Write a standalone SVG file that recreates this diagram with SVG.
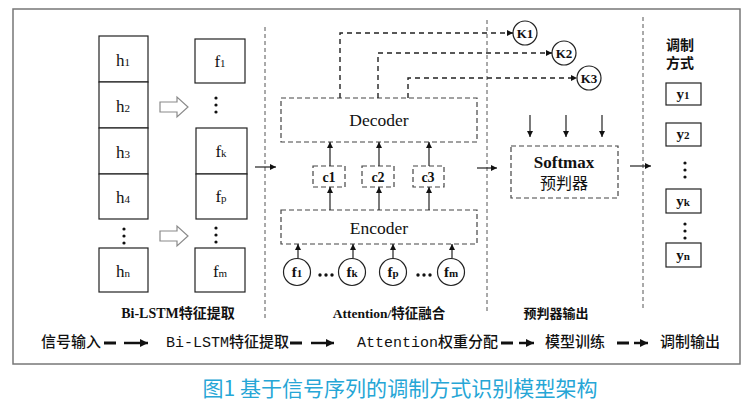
<svg xmlns="http://www.w3.org/2000/svg" width="756" height="418" viewBox="0 0 756 418">
<defs>
<marker id="ah" viewBox="0 0 10 10" refX="10" refY="5" markerWidth="6" markerHeight="6" markerUnits="userSpaceOnUse" orient="auto"><path d="M0,0 L10,5 L0,10 z" fill="#111"/></marker>
<marker id="ah2" viewBox="0 0 10 10" refX="10" refY="5" markerWidth="10" markerHeight="8" markerUnits="userSpaceOnUse" orient="auto"><path d="M0,0 L10,5 L0,10 z" fill="#111"/></marker>
<style>
.box{fill:#fff;stroke:#222;stroke-width:1.2}
.dbox{fill:none;stroke:#444;stroke-width:1.2;stroke-dasharray:5 3}
.sep{stroke:#555;stroke-width:1;stroke-dasharray:4 3;fill:none}
.fb{fill:none;stroke:#222;stroke-width:1.4;stroke-dasharray:5 4;marker-end:url(#ah)}
.arr{stroke:#222;stroke-width:1.2;fill:none;marker-end:url(#ah)}
.hol{fill:#fff;stroke:#8a8a8a;stroke-width:1.2}
.t{font-family:"Liberation Serif","Noto Sans CJK SC",serif;fill:#111;text-anchor:middle;dominant-baseline:central}
.s{font-family:"Liberation Serif","Noto Sans CJK SC",serif;fill:#111;text-anchor:middle}
.b{font-weight:bold}
.m{font-family:"Liberation Mono","Noto Sans CJK SC",monospace;fill:#111;font-size:15px;dominant-baseline:central;font-weight:500}
.dot{fill:#111}
.cir{fill:#fff;stroke:#222;stroke-width:1.2}
.bd{stroke:#111;stroke-width:3}
.ba{stroke:#111;stroke-width:2.5;marker-end:url(#ah2)}
</style>
</defs>
<rect x="0" y="0" width="756" height="418" fill="#fff"/>
<rect x="13" y="9" width="727" height="355" fill="none" stroke="#777" stroke-width="1.5"/>

<g id="separators">
<line class="sep" x1="265" y1="27" x2="265" y2="320"/>
<line class="sep" x1="487" y1="20" x2="487" y2="314"/>
<line class="sep" x1="643" y1="17" x2="643" y2="310"/>
</g>

<g id="h-column">
<rect class="box" x="99" y="36" width="49" height="46"/>
<rect class="box" x="99" y="82" width="49" height="46"/>
<rect class="box" x="99" y="128" width="49" height="46"/>
<rect class="box" x="99" y="174" width="49" height="45"/>
<rect class="box" x="99" y="248" width="49" height="44"/>
<text class="s" x="123" y="66" font-size="17">h<tspan font-size="11">1</tspan></text>
<text class="s" x="123" y="112" font-size="17">h<tspan font-size="11">2</tspan></text>
<text class="s" x="123" y="158" font-size="17">h<tspan font-size="11">3</tspan></text>
<text class="s" x="123" y="203" font-size="17">h<tspan font-size="11">4</tspan></text>
<text class="s" x="123" y="277" font-size="17">h<tspan font-size="11">n</tspan></text>
<circle class="dot" cx="124" cy="229" r="1.6"/><circle class="dot" cx="124" cy="236" r="1.6"/><circle class="dot" cx="124" cy="243" r="1.6"/>
</g>

<g id="f-column">
<rect class="box" x="195" y="39" width="50" height="44"/>
<rect class="box" x="196" y="128" width="51" height="46"/>
<rect class="box" x="196" y="174" width="51" height="45"/>
<rect class="box" x="195" y="248" width="50" height="44"/>
<text class="s" x="220" y="67" font-size="17">f<tspan font-size="11">1</tspan></text>
<text class="s" x="221" y="157" font-size="17">f<tspan font-size="11">k</tspan></text>
<text class="s" x="221" y="202" font-size="17">f<tspan font-size="11">p</tspan></text>
<text class="s" x="220" y="277" font-size="17">f<tspan font-size="11">m</tspan></text>
<circle class="dot" cx="216" cy="98" r="1.6"/><circle class="dot" cx="216" cy="105" r="1.6"/><circle class="dot" cx="216" cy="112" r="1.6"/>
<circle class="dot" cx="216" cy="228" r="1.6"/><circle class="dot" cx="216" cy="235" r="1.6"/><circle class="dot" cx="216" cy="242" r="1.6"/>
</g>

<g id="hollow-arrows">
<polygon class="hol" points="160,102 177,102 177,97 188,107 177,117 177,112 160,112"/>
<polygon class="hol" points="160,231 177,231 177,226 188,236 177,246 177,241 160,241"/>
</g>

<g id="decoder">
<rect class="dbox" x="281" y="98" width="196" height="44"/>
<text class="t" x="379" y="120" font-size="17.5">Decoder</text>
</g>
<g id="encoder">
<rect class="dbox" x="281" y="210" width="196" height="34"/>
<text class="t" x="379" y="228" font-size="17.5">Encoder</text>
</g>
<g id="c1"><rect class="dbox" x="313" y="166" width="32" height="21"/><text class="t b" x="329" y="177" font-size="14">c1</text></g>
<g id="c2"><rect class="dbox" x="362" y="166" width="32" height="21"/><text class="t b" x="378" y="177" font-size="14">c2</text></g>
<g id="c3"><rect class="dbox" x="413" y="166" width="31" height="21"/><text class="t b" x="428" y="177" font-size="14">c3</text></g>

<g id="f-inputs">
<circle class="cir" cx="297" cy="272" r="13.5"/><text class="s b" x="297" y="277" font-size="15">f<tspan font-size="11">1</tspan></text>
<circle class="cir" cx="352" cy="272" r="13.5"/><text class="s b" x="352" y="277" font-size="15">f<tspan font-size="11">k</tspan></text>
<circle class="cir" cx="393" cy="272" r="13.5"/><text class="s b" x="393" y="277" font-size="15">f<tspan font-size="11">p</tspan></text>
<circle class="cir" cx="451" cy="272" r="13.5"/><text class="s b" x="451" y="277" font-size="15">f<tspan font-size="11">m</tspan></text>
<circle class="dot" cx="320" cy="275" r="1.7"/><circle class="dot" cx="326" cy="275" r="1.7"/><circle class="dot" cx="332" cy="275" r="1.7"/>
<circle class="dot" cx="418" cy="275" r="1.7"/><circle class="dot" cx="424" cy="275" r="1.7"/><circle class="dot" cx="430" cy="275" r="1.7"/>
</g>

<g id="k-nodes">
<circle class="cir" cx="525" cy="33" r="12"/><text class="t b" x="525" y="33" font-size="13">K1</text>
<circle class="cir" cx="564" cy="53" r="12"/><text class="t b" x="564" y="53" font-size="13">K2</text>
<circle class="cir" cx="589" cy="78" r="12"/><text class="t b" x="589" y="78" font-size="13">K3</text>
</g>

<g id="softmax">
<rect class="dbox" x="511" y="146" width="107" height="52"/>
<text class="t b" x="564" y="162" font-size="17">Softmax</text>
<text class="t" x="564" y="183" font-size="16">预判器</text>
</g>

<g id="outputs">
<text class="t b" x="680" y="45" font-size="14">调制</text>
<text class="t b" x="680" y="63" font-size="14">方式</text>
<rect class="box" x="666" y="83" width="35" height="22"/><text class="s b" x="683" y="99" font-size="15">y<tspan font-size="11">1</tspan></text>
<rect class="box" x="666" y="123" width="35" height="23"/><text class="s b" x="683" y="139" font-size="15">y<tspan font-size="11">2</tspan></text>
<rect class="box" x="666" y="189" width="35" height="24"/><text class="s b" x="683" y="206" font-size="15">y<tspan font-size="11">k</tspan></text>
<rect class="box" x="666" y="243" width="35" height="24"/><text class="s b" x="683" y="260" font-size="15">y<tspan font-size="11">n</tspan></text>
<circle class="dot" cx="685" cy="163" r="1.6"/><circle class="dot" cx="685" cy="170" r="1.6"/><circle class="dot" cx="685" cy="177" r="1.6"/>
<circle class="dot" cx="685" cy="224" r="1.6"/><circle class="dot" cx="685" cy="231" r="1.6"/><circle class="dot" cx="685" cy="238" r="1.6"/>
</g>

<g id="connectors">
<line class="arr" x1="255" y1="167" x2="276" y2="167"/>
<line class="arr" x1="477" y1="168" x2="497" y2="168"/>
<line class="arr" x1="630" y1="166" x2="651" y2="166"/>
<line class="arr" x1="298" y1="258" x2="298" y2="244"/>
<line class="arr" x1="353" y1="258" x2="353" y2="244"/>
<line class="arr" x1="393" y1="258" x2="393" y2="244"/>
<line class="arr" x1="452" y1="258" x2="452" y2="244"/>
<line class="arr" x1="330" y1="210" x2="330" y2="187"/>
<line class="arr" x1="379" y1="210" x2="379" y2="187"/>
<line class="arr" x1="429" y1="210" x2="429" y2="187"/>
<line class="arr" x1="330" y1="166" x2="330" y2="142"/>
<line class="arr" x1="379" y1="166" x2="379" y2="142"/>
<line class="arr" x1="429" y1="166" x2="429" y2="142"/>
<path class="fb" d="M340,98 V33 H513"/>
<path class="fb" d="M378,98 V53 H552"/>
<path class="fb" d="M408,98 V78 H577"/>
<line class="arr" x1="530" y1="115" x2="530" y2="137"/>
<line class="arr" x1="566" y1="115" x2="566" y2="137"/>
<line class="arr" x1="602" y1="115" x2="602" y2="137"/>
</g>

<g id="section-labels">
<text class="t b" x="178" y="313" font-size="14">Bi-LSTM特征提取</text>
<text class="t b" x="389" y="313" font-size="13.5">Attention/特征融合</text>
<text class="t b" x="556" y="313" font-size="13">预判器输出</text>
</g>

<g id="flow">
<text class="m" x="41" y="343">信号输入</text>
<line class="bd" x1="104" y1="343" x2="116" y2="343"/><line class="ba" x1="124" y1="343" x2="148" y2="343"/>
<text class="m" x="166" y="343">Bi-LSTM特征提取</text>
<line class="bd" x1="290" y1="343" x2="302" y2="343"/><line class="ba" x1="311" y1="343" x2="334" y2="343"/>
<text class="m" x="357" y="343">Attention权重分配</text>
<line class="bd" x1="501" y1="343" x2="513" y2="343"/><line class="ba" x1="519" y1="343" x2="534" y2="343"/>
<text class="m" x="545" y="343">模型训练</text>
<line class="bd" x1="617" y1="343" x2="629" y2="343"/><line class="ba" x1="634" y1="343" x2="648" y2="343"/>
<text class="m" x="660" y="343">调制输出</text>
</g>

<text x="400" y="387" font-family="'Noto Sans CJK SC','Noto Sans',sans-serif" font-size="21" fill="#26a6d6" text-anchor="middle" dominant-baseline="central" textLength="395" lengthAdjust="spacingAndGlyphs">图1 基于信号序列的调制方式识别模型架构</text>
</svg>
